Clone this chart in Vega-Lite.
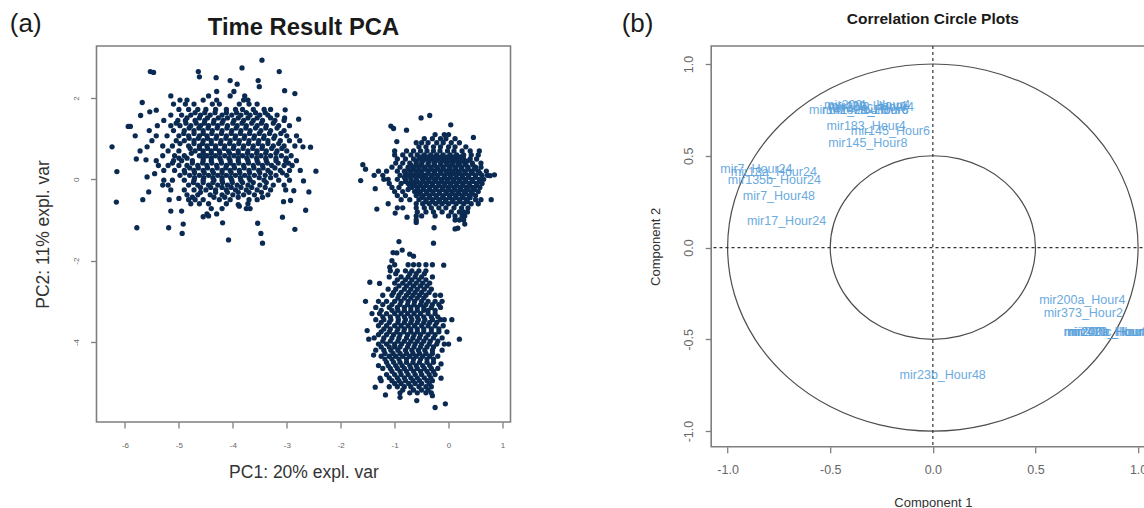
{"$schema":"https://vega.github.io/schema/vega-lite/v6.json","padding":{"left":8.5,"top":10,"right":0,"bottom":0},"background":"white","bounds":"flush","spacing":200.7,"config":{"font":"Liberation Sans","view":{"stroke":"#7f7f7f","strokeWidth":1.6},"axis":{"grid":false,"domain":false,"tickColor":"#7f7f7f","tickWidth":1.3,"tickSize":6,"labelColor":"#666666","titleColor":"#333333","titleFontWeight":"normal"}},"hconcat":[{"width":414,"height":376,"title":{"text":"Time Result PCA","fontSize":23.8,"fontWeight":"bold","color":"#1a1a1a","anchor":"middle","offset":-29},"layer":[{"data":{"values":[{"x":-6.24,"y":0.8},{"x":-6.15,"y":0.19},{"x":-6.16,"y":-0.56},{"x":-5.78,"y":-1.19},{"x":-5.19,"y":-1.19},{"x":-4.94,"y":-1.33},{"x":-4.92,"y":-1.1},{"x":-5.67,"y":-0.5},{"x":-5.56,"y":-0.31},{"x":-5.59,"y":0.06},{"x":-5.45,"y":0.14},{"x":-5.79,"y":0.5},{"x":-5.61,"y":0.48},{"x":-5.72,"y":0.7},{"x":-5.59,"y":0.8},{"x":-5.81,"y":1.07},{"x":-5.94,"y":1.3},{"x":-5.9,"y":1.3},{"x":-5.71,"y":1.57},{"x":-5.68,"y":1.89},{"x":-5.54,"y":1.66},{"x":-5.42,"y":1.7},{"x":-5.53,"y":2.65},{"x":-5.47,"y":2.63},{"x":-4.64,"y":2.65},{"x":-4.62,"y":2.52},{"x":-4.31,"y":2.5},{"x":-4.05,"y":2.43},{"x":-3.92,"y":2.34},{"x":-3.83,"y":2.74},{"x":-3.46,"y":2.93},{"x":-3.14,"y":2.65},{"x":-3.53,"y":2.43},{"x":-3.51,"y":2.28},{"x":-3.04,"y":2.18},{"x":-2.85,"y":2.11},{"x":-3.98,"y":2.16},{"x":-4.3,"y":2.16},{"x":-3.03,"y":1.71},{"x":-2.78,"y":1.48},{"x":-3.04,"y":1.51},{"x":-2.76,"y":0.95},{"x":-2.7,"y":0.8},{"x":-2.56,"y":0.79},{"x":-2.46,"y":0.2},{"x":-2.59,"y":-0.31},{"x":-2.69,"y":-0.04},{"x":-2.87,"y":-0.28},{"x":-2.65,"y":-0.76},{"x":-2.85,"y":-1.23},{"x":-3.08,"y":-0.93},{"x":-2.93,"y":-0.52},{"x":-3.06,"y":-0.55},{"x":-3.54,"y":-1.08},{"x":-3.48,"y":-1.33},{"x":-3.45,"y":-1.57},{"x":-4.08,"y":-1.49},{"x":-4.19,"y":-1.07},{"x":-5.15,"y":2.05},{"x":-4.45,"y":2.05},{"x":-4.05,"y":2.05},{"x":-3.78,"y":2.05},{"x":-4.98,"y":1.95},{"x":-4.85,"y":1.95},{"x":-4.55,"y":1.95},{"x":-4.3,"y":1.95},{"x":-3.8,"y":1.95},{"x":-3.72,"y":1.95},{"x":-5.1,"y":1.85},{"x":-4.88,"y":1.85},{"x":-4.72,"y":1.85},{"x":-4.38,"y":1.85},{"x":-4.25,"y":1.85},{"x":-3.88,"y":1.85},{"x":-3.7,"y":1.85},{"x":-3.55,"y":1.85},{"x":-5.0,"y":1.72},{"x":-4.82,"y":1.72},{"x":-4.65,"y":1.72},{"x":-4.5,"y":1.72},{"x":-4.32,"y":1.72},{"x":-4.12,"y":1.72},{"x":-3.95,"y":1.72},{"x":-3.82,"y":1.72},{"x":-3.62,"y":1.72},{"x":-3.42,"y":1.72},{"x":-3.3,"y":1.72},{"x":-5.15,"y":1.58},{"x":-4.95,"y":1.58},{"x":-4.78,"y":1.58},{"x":-4.6,"y":1.58},{"x":-4.42,"y":1.58},{"x":-4.2,"y":1.58},{"x":-4.02,"y":1.58},{"x":-3.85,"y":1.58},{"x":-3.68,"y":1.58},{"x":-3.5,"y":1.58},{"x":-3.35,"y":1.58},{"x":-3.18,"y":1.58},{"x":-5.28,"y":1.45},{"x":-5.02,"y":1.45},{"x":-4.88,"y":1.45},{"x":-4.7,"y":1.45},{"x":-4.52,"y":1.45},{"x":-4.35,"y":1.45},{"x":-4.18,"y":1.45},{"x":-3.98,"y":1.45},{"x":-3.8,"y":1.45},{"x":-3.62,"y":1.45},{"x":-3.45,"y":1.45},{"x":-3.22,"y":1.45},{"x":-3.05,"y":1.45},{"x":-5.4,"y":1.32},{"x":-5.15,"y":1.32},{"x":-4.98,"y":1.32},{"x":-4.78,"y":1.32},{"x":-4.6,"y":1.32},{"x":-4.45,"y":1.32},{"x":-4.28,"y":1.32},{"x":-4.1,"y":1.32},{"x":-3.92,"y":1.32},{"x":-3.75,"y":1.32},{"x":-3.55,"y":1.32},{"x":-3.38,"y":1.32},{"x":-3.15,"y":1.32},{"x":-2.95,"y":1.32},{"x":-5.55,"y":1.2},{"x":-5.1,"y":1.2},{"x":-4.9,"y":1.2},{"x":-4.72,"y":1.2},{"x":-4.55,"y":1.2},{"x":-4.38,"y":1.2},{"x":-4.2,"y":1.2},{"x":-4.02,"y":1.2},{"x":-3.85,"y":1.2},{"x":-3.68,"y":1.2},{"x":-3.48,"y":1.2},{"x":-3.3,"y":1.2},{"x":-3.05,"y":1.2},{"x":-5.42,"y":1.07},{"x":-5.22,"y":1.07},{"x":-5.0,"y":1.07},{"x":-4.82,"y":1.07},{"x":-4.62,"y":1.07},{"x":-4.48,"y":1.07},{"x":-4.3,"y":1.07},{"x":-4.12,"y":1.07},{"x":-3.95,"y":1.07},{"x":-3.78,"y":1.07},{"x":-3.6,"y":1.07},{"x":-3.42,"y":1.07},{"x":-3.22,"y":1.07},{"x":-3.0,"y":1.07},{"x":-2.82,"y":1.07},{"x":-5.5,"y":0.95},{"x":-5.05,"y":0.95},{"x":-4.9,"y":0.95},{"x":-4.72,"y":0.95},{"x":-4.55,"y":0.95},{"x":-4.4,"y":0.95},{"x":-4.22,"y":0.95},{"x":-4.05,"y":0.95},{"x":-3.88,"y":0.95},{"x":-3.7,"y":0.95},{"x":-3.52,"y":0.95},{"x":-3.35,"y":0.95},{"x":-3.12,"y":0.95},{"x":-2.95,"y":0.95},{"x":-5.3,"y":0.82},{"x":-5.12,"y":0.82},{"x":-4.82,"y":0.82},{"x":-4.62,"y":0.82},{"x":-4.48,"y":0.82},{"x":-4.32,"y":0.82},{"x":-4.15,"y":0.82},{"x":-3.98,"y":0.82},{"x":-3.8,"y":0.82},{"x":-3.62,"y":0.82},{"x":-3.45,"y":0.82},{"x":-3.25,"y":0.82},{"x":-3.05,"y":0.82},{"x":-2.85,"y":0.82},{"x":-5.2,"y":0.7},{"x":-5.0,"y":0.7},{"x":-4.7,"y":0.7},{"x":-4.55,"y":0.7},{"x":-4.4,"y":0.7},{"x":-4.25,"y":0.7},{"x":-4.08,"y":0.7},{"x":-3.9,"y":0.7},{"x":-3.72,"y":0.7},{"x":-3.55,"y":0.7},{"x":-3.38,"y":0.7},{"x":-3.18,"y":0.7},{"x":-3.0,"y":0.7},{"x":-5.3,"y":0.58},{"x":-5.08,"y":0.58},{"x":-4.9,"y":0.58},{"x":-4.62,"y":0.58},{"x":-4.48,"y":0.58},{"x":-4.32,"y":0.58},{"x":-4.15,"y":0.58},{"x":-3.98,"y":0.58},{"x":-3.82,"y":0.58},{"x":-3.65,"y":0.58},{"x":-3.48,"y":0.58},{"x":-3.3,"y":0.58},{"x":-3.1,"y":0.58},{"x":-2.92,"y":0.58},{"x":-5.42,"y":0.46},{"x":-5.1,"y":0.46},{"x":-4.95,"y":0.46},{"x":-4.75,"y":0.46},{"x":-4.55,"y":0.46},{"x":-4.4,"y":0.46},{"x":-4.22,"y":0.46},{"x":-4.05,"y":0.46},{"x":-3.9,"y":0.46},{"x":-3.72,"y":0.46},{"x":-3.55,"y":0.46},{"x":-3.38,"y":0.46},{"x":-3.2,"y":0.46},{"x":-3.02,"y":0.46},{"x":-2.82,"y":0.46},{"x":-5.38,"y":0.34},{"x":-5.2,"y":0.34},{"x":-5.0,"y":0.34},{"x":-4.85,"y":0.34},{"x":-4.65,"y":0.34},{"x":-4.48,"y":0.34},{"x":-4.3,"y":0.34},{"x":-4.12,"y":0.34},{"x":-3.98,"y":0.34},{"x":-3.8,"y":0.34},{"x":-3.62,"y":0.34},{"x":-3.45,"y":0.34},{"x":-3.28,"y":0.34},{"x":-3.05,"y":0.34},{"x":-2.9,"y":0.34},{"x":-5.28,"y":0.22},{"x":-5.08,"y":0.22},{"x":-4.9,"y":0.22},{"x":-4.72,"y":0.22},{"x":-4.55,"y":0.22},{"x":-4.38,"y":0.22},{"x":-4.2,"y":0.22},{"x":-4.05,"y":0.22},{"x":-3.88,"y":0.22},{"x":-3.7,"y":0.22},{"x":-3.52,"y":0.22},{"x":-3.35,"y":0.22},{"x":-3.12,"y":0.22},{"x":-2.95,"y":0.22},{"x":-2.75,"y":0.22},{"x":-4.98,"y":0.1},{"x":-4.8,"y":0.1},{"x":-4.62,"y":0.1},{"x":-4.45,"y":0.1},{"x":-4.28,"y":0.1},{"x":-4.12,"y":0.1},{"x":-3.95,"y":0.1},{"x":-3.78,"y":0.1},{"x":-3.6,"y":0.1},{"x":-3.4,"y":0.1},{"x":-3.2,"y":0.1},{"x":-3.0,"y":0.1},{"x":-5.28,"y":-0.02},{"x":-5.12,"y":-0.02},{"x":-4.9,"y":-0.02},{"x":-4.72,"y":-0.02},{"x":-4.55,"y":-0.02},{"x":-4.35,"y":-0.02},{"x":-4.2,"y":-0.02},{"x":-4.02,"y":-0.02},{"x":-3.85,"y":-0.02},{"x":-3.68,"y":-0.02},{"x":-3.42,"y":-0.02},{"x":-3.15,"y":-0.02},{"x":-2.95,"y":-0.02},{"x":-5.3,"y":-0.14},{"x":-5.2,"y":-0.14},{"x":-4.82,"y":-0.14},{"x":-4.65,"y":-0.14},{"x":-4.45,"y":-0.14},{"x":-4.28,"y":-0.14},{"x":-4.1,"y":-0.14},{"x":-3.92,"y":-0.14},{"x":-3.72,"y":-0.14},{"x":-3.5,"y":-0.14},{"x":-3.25,"y":-0.14},{"x":-3.05,"y":-0.14},{"x":-5.15,"y":-0.26},{"x":-4.9,"y":-0.26},{"x":-4.72,"y":-0.26},{"x":-4.5,"y":-0.26},{"x":-4.32,"y":-0.26},{"x":-4.12,"y":-0.26},{"x":-3.95,"y":-0.26},{"x":-3.75,"y":-0.26},{"x":-3.55,"y":-0.26},{"x":-3.3,"y":-0.26},{"x":-3.02,"y":-0.26},{"x":-4.85,"y":-0.38},{"x":-4.65,"y":-0.38},{"x":-4.42,"y":-0.38},{"x":-4.2,"y":-0.38},{"x":-4.0,"y":-0.38},{"x":-3.8,"y":-0.38},{"x":-3.6,"y":-0.38},{"x":-3.35,"y":-0.38},{"x":-5.18,"y":-0.5},{"x":-5.0,"y":-0.47},{"x":-4.82,"y":-0.5},{"x":-4.7,"y":-0.5},{"x":-4.55,"y":-0.5},{"x":-4.25,"y":-0.5},{"x":-4.05,"y":-0.5},{"x":-3.7,"y":-0.5},{"x":-3.55,"y":-0.5},{"x":-4.78,"y":-0.6},{"x":-4.62,"y":-0.6},{"x":-4.45,"y":-0.6},{"x":-4.12,"y":-0.6},{"x":-3.9,"y":-0.62},{"x":-3.72,"y":-0.6},{"x":-4.4,"y":-0.72},{"x":-4.2,"y":-0.72},{"x":-3.88,"y":-0.66},{"x":-3.75,"y":-0.72},{"x":-3.68,"y":-0.72},{"x":-5.15,"y":-0.78},{"x":-4.95,"y":-0.78},{"x":-4.48,"y":-0.85},{"x":-4.3,"y":-0.85},{"x":-4.55,"y":-0.92},{"x":-4.45,"y":-0.9},{"x":-0.51,"y":1.51},{"x":-0.35,"y":1.57},{"x":0.04,"y":1.34},{"x":-1.07,"y":1.31},{"x":-1.02,"y":1.25},{"x":-0.78,"y":1.21},{"x":0.46,"y":1.03},{"x":-0.96,"y":0.93},{"x":-1.59,"y":0.36},{"x":-1.54,"y":0.25},{"x":-1.63,"y":-0.03},{"x":-1.36,"y":-0.23},{"x":-1.33,"y":-0.73},{"x":-1.12,"y":-0.6},{"x":-0.99,"y":-0.83},{"x":-0.77,"y":-0.93},{"x":-0.6,"y":-1.06},{"x":-0.27,"y":-1.19},{"x":0.12,"y":-1.22},{"x":0.17,"y":-1.2},{"x":0.3,"y":-1.1},{"x":0.79,"y":-0.5},{"x":0.85,"y":0.11},{"x":0.77,"y":0.09},{"x":0.57,"y":0.7},{"x":-0.25,"y":1.1},{"x":-0.08,"y":1.1},{"x":0.0,"y":1.1},{"x":-0.45,"y":1.0},{"x":-0.3,"y":1.0},{"x":-0.15,"y":1.0},{"x":-0.05,"y":1.0},{"x":0.12,"y":1.0},{"x":-0.6,"y":0.9},{"x":-0.5,"y":0.9},{"x":-0.38,"y":0.9},{"x":-0.22,"y":0.9},{"x":-0.1,"y":0.9},{"x":0.05,"y":0.9},{"x":0.2,"y":0.9},{"x":-0.55,"y":0.8},{"x":-0.42,"y":0.8},{"x":-0.28,"y":0.8},{"x":-0.15,"y":0.8},{"x":0.0,"y":0.8},{"x":0.12,"y":0.8},{"x":0.32,"y":0.8},{"x":-1.0,"y":0.7},{"x":-0.78,"y":0.7},{"x":-0.65,"y":0.7},{"x":-0.52,"y":0.7},{"x":-0.4,"y":0.7},{"x":-0.28,"y":0.7},{"x":-0.16,"y":0.7},{"x":-0.02,"y":0.7},{"x":0.1,"y":0.7},{"x":0.25,"y":0.7},{"x":0.4,"y":0.7},{"x":-1.0,"y":0.6},{"x":-0.85,"y":0.6},{"x":-0.7,"y":0.6},{"x":-0.58,"y":0.6},{"x":-0.45,"y":0.6},{"x":-0.33,"y":0.6},{"x":-0.22,"y":0.6},{"x":-0.1,"y":0.6},{"x":0.03,"y":0.6},{"x":0.15,"y":0.6},{"x":0.28,"y":0.6},{"x":0.42,"y":0.6},{"x":0.55,"y":0.6},{"x":-0.95,"y":0.5},{"x":-0.8,"y":0.5},{"x":-0.65,"y":0.5},{"x":-0.55,"y":0.5},{"x":-0.42,"y":0.5},{"x":-0.3,"y":0.5},{"x":-0.2,"y":0.5},{"x":-0.08,"y":0.5},{"x":0.05,"y":0.5},{"x":0.16,"y":0.5},{"x":0.28,"y":0.5},{"x":0.4,"y":0.5},{"x":0.52,"y":0.5},{"x":-0.98,"y":0.4},{"x":-0.85,"y":0.4},{"x":-0.72,"y":0.4},{"x":-0.6,"y":0.4},{"x":-0.5,"y":0.4},{"x":-0.38,"y":0.4},{"x":-0.27,"y":0.4},{"x":-0.15,"y":0.4},{"x":-0.04,"y":0.4},{"x":0.07,"y":0.4},{"x":0.18,"y":0.4},{"x":0.3,"y":0.4},{"x":0.44,"y":0.4},{"x":0.6,"y":0.4},{"x":-1.05,"y":0.3},{"x":-0.9,"y":0.3},{"x":-0.75,"y":0.3},{"x":-0.65,"y":0.3},{"x":-0.55,"y":0.3},{"x":-0.45,"y":0.3},{"x":-0.33,"y":0.3},{"x":-0.22,"y":0.3},{"x":-0.1,"y":0.3},{"x":0.02,"y":0.3},{"x":0.13,"y":0.3},{"x":0.24,"y":0.3},{"x":0.36,"y":0.3},{"x":0.5,"y":0.3},{"x":0.6,"y":0.3},{"x":-1.3,"y":0.2},{"x":-1.15,"y":0.2},{"x":-0.95,"y":0.2},{"x":-0.82,"y":0.2},{"x":-0.7,"y":0.2},{"x":-0.6,"y":0.2},{"x":-0.5,"y":0.2},{"x":-0.38,"y":0.2},{"x":-0.27,"y":0.2},{"x":-0.15,"y":0.2},{"x":-0.04,"y":0.2},{"x":0.07,"y":0.2},{"x":0.18,"y":0.2},{"x":0.3,"y":0.2},{"x":0.42,"y":0.2},{"x":0.55,"y":0.2},{"x":0.7,"y":0.2},{"x":-1.38,"y":0.1},{"x":-1.22,"y":0.1},{"x":-0.9,"y":0.1},{"x":-0.76,"y":0.1},{"x":-0.65,"y":0.1},{"x":-0.55,"y":0.1},{"x":-0.44,"y":0.1},{"x":-0.32,"y":0.1},{"x":-0.2,"y":0.1},{"x":-0.08,"y":0.1},{"x":0.03,"y":0.1},{"x":0.14,"y":0.1},{"x":0.25,"y":0.1},{"x":0.37,"y":0.1},{"x":0.5,"y":0.1},{"x":0.62,"y":0.1},{"x":0.72,"y":0.1},{"x":-1.2,"y":0.0},{"x":-1.12,"y":0.0},{"x":-0.95,"y":0.0},{"x":-0.8,"y":0.0},{"x":-0.7,"y":0.0},{"x":-0.6,"y":0.0},{"x":-0.48,"y":0.0},{"x":-0.37,"y":0.0},{"x":-0.26,"y":0.0},{"x":-0.14,"y":0.0},{"x":-0.02,"y":0.0},{"x":0.09,"y":0.0},{"x":0.2,"y":0.0},{"x":0.31,"y":0.0},{"x":0.43,"y":0.0},{"x":0.57,"y":0.0},{"x":0.65,"y":0.0},{"x":-1.1,"y":-0.1},{"x":-0.88,"y":-0.1},{"x":-0.75,"y":-0.1},{"x":-0.64,"y":-0.1},{"x":-0.53,"y":-0.1},{"x":-0.42,"y":-0.1},{"x":-0.3,"y":-0.1},{"x":-0.18,"y":-0.1},{"x":-0.07,"y":-0.1},{"x":0.04,"y":-0.1},{"x":0.15,"y":-0.1},{"x":0.26,"y":-0.1},{"x":0.38,"y":-0.1},{"x":0.52,"y":-0.1},{"x":0.62,"y":-0.1},{"x":-1.05,"y":-0.2},{"x":-0.92,"y":-0.2},{"x":-0.68,"y":-0.2},{"x":-0.57,"y":-0.2},{"x":-0.47,"y":-0.2},{"x":-0.35,"y":-0.2},{"x":-0.24,"y":-0.2},{"x":-0.12,"y":-0.2},{"x":-0.01,"y":-0.2},{"x":0.1,"y":-0.2},{"x":0.21,"y":-0.2},{"x":0.33,"y":-0.2},{"x":0.45,"y":-0.2},{"x":0.58,"y":-0.2},{"x":-1.0,"y":-0.3},{"x":-0.85,"y":-0.3},{"x":-0.63,"y":-0.3},{"x":-0.52,"y":-0.3},{"x":-0.4,"y":-0.3},{"x":-0.29,"y":-0.3},{"x":-0.17,"y":-0.3},{"x":-0.05,"y":-0.3},{"x":0.06,"y":-0.3},{"x":0.17,"y":-0.3},{"x":0.29,"y":-0.3},{"x":0.42,"y":-0.3},{"x":0.55,"y":-0.3},{"x":-0.95,"y":-0.4},{"x":-0.8,"y":-0.4},{"x":-0.6,"y":-0.4},{"x":-0.47,"y":-0.4},{"x":-0.35,"y":-0.4},{"x":-0.23,"y":-0.4},{"x":-0.1,"y":-0.4},{"x":0.02,"y":-0.4},{"x":0.13,"y":-0.4},{"x":0.25,"y":-0.4},{"x":0.38,"y":-0.4},{"x":0.5,"y":-0.4},{"x":-0.88,"y":-0.5},{"x":-0.72,"y":-0.5},{"x":-0.55,"y":-0.5},{"x":-0.42,"y":-0.5},{"x":-0.3,"y":-0.5},{"x":-0.17,"y":-0.5},{"x":-0.05,"y":-0.5},{"x":0.08,"y":-0.5},{"x":0.2,"y":-0.5},{"x":0.33,"y":-0.5},{"x":0.5,"y":-0.5},{"x":0.6,"y":-0.5},{"x":-0.6,"y":-0.6},{"x":-0.48,"y":-0.6},{"x":-0.36,"y":-0.6},{"x":-0.24,"y":-0.6},{"x":-0.12,"y":-0.6},{"x":0.0,"y":-0.6},{"x":0.14,"y":-0.6},{"x":0.28,"y":-0.6},{"x":0.42,"y":-0.6},{"x":0.55,"y":-0.6},{"x":-0.95,"y":-0.7},{"x":-0.85,"y":-0.7},{"x":-0.6,"y":-0.7},{"x":-0.45,"y":-0.7},{"x":-0.32,"y":-0.7},{"x":-0.18,"y":-0.7},{"x":-0.05,"y":-0.7},{"x":0.1,"y":-0.7},{"x":0.24,"y":-0.7},{"x":0.36,"y":-0.7},{"x":-0.58,"y":-0.8},{"x":-0.42,"y":-0.8},{"x":-0.28,"y":-0.8},{"x":-0.12,"y":-0.8},{"x":0.05,"y":-0.8},{"x":0.2,"y":-0.8},{"x":0.28,"y":-0.8},{"x":0.35,"y":-0.8},{"x":-0.6,"y":-0.9},{"x":-0.5,"y":-0.9},{"x":-0.25,"y":-0.9},{"x":0.0,"y":-0.9},{"x":0.12,"y":-0.9},{"x":0.25,"y":-0.9},{"x":0.3,"y":-0.9},{"x":-0.6,"y":-1.0},{"x":0.12,"y":-1.0},{"x":0.2,"y":-1.0},{"x":0.28,"y":-1.0},{"x":-0.92,"y":-1.53},{"x":-0.28,"y":-1.57},{"x":-1.03,"y":-1.8},{"x":-0.86,"y":-1.74},{"x":-0.96,"y":-1.81},{"x":-0.72,"y":-1.84},{"x":-0.65,"y":-1.89},{"x":-0.09,"y":-2.11},{"x":-1.05,"y":-2.0},{"x":-1.09,"y":-2.16},{"x":-1.46,"y":-2.53},{"x":-1.28,"y":-2.56},{"x":-1.54,"y":-3.0},{"x":0.06,"y":-3.45},{"x":0.2,"y":-3.93},{"x":-1.36,"y":-5.11},{"x":-1.17,"y":-5.3},{"x":-0.9,"y":-5.36},{"x":-0.59,"y":-5.44},{"x":-0.3,"y":-5.32},{"x":-0.25,"y":-5.61},{"x":-0.06,"y":-5.52},{"x":-0.14,"y":-4.89},{"x":-1.48,"y":-3.93},{"x":-1.51,"y":-3.72},{"x":-1.39,"y":-4.32},{"x":-1.3,"y":-4.58},{"x":-1.27,"y":-4.89},{"x":-0.14,"y":-4.54},{"x":0.0,"y":-4.05},{"x":-0.03,"y":-3.75},{"x":-1.0,"y":-2.1},{"x":-0.75,"y":-2.1},{"x":-0.65,"y":-2.1},{"x":-0.55,"y":-2.1},{"x":-0.42,"y":-2.1},{"x":-0.3,"y":-2.1},{"x":-1.08,"y":-2.25},{"x":-0.95,"y":-2.25},{"x":-0.8,"y":-2.25},{"x":-0.68,"y":-2.25},{"x":-0.55,"y":-2.25},{"x":-0.42,"y":-2.25},{"x":-1.1,"y":-2.4},{"x":-0.88,"y":-2.4},{"x":-0.75,"y":-2.4},{"x":-0.62,"y":-2.4},{"x":-0.5,"y":-2.4},{"x":-0.3,"y":-2.4},{"x":-1.0,"y":-2.55},{"x":-0.85,"y":-2.55},{"x":-0.72,"y":-2.55},{"x":-0.6,"y":-2.55},{"x":-0.48,"y":-2.55},{"x":-0.35,"y":-2.55},{"x":-1.12,"y":-2.7},{"x":-0.98,"y":-2.7},{"x":-0.82,"y":-2.7},{"x":-0.7,"y":-2.7},{"x":-0.58,"y":-2.7},{"x":-0.45,"y":-2.7},{"x":-0.32,"y":-2.7},{"x":-1.22,"y":-2.85},{"x":-1.05,"y":-2.85},{"x":-0.92,"y":-2.85},{"x":-0.78,"y":-2.85},{"x":-0.66,"y":-2.85},{"x":-0.54,"y":-2.85},{"x":-0.42,"y":-2.85},{"x":-0.25,"y":-2.85},{"x":-0.15,"y":-2.85},{"x":-1.3,"y":-3.0},{"x":-1.15,"y":-3.0},{"x":-1.0,"y":-3.0},{"x":-0.88,"y":-3.0},{"x":-0.75,"y":-3.0},{"x":-0.63,"y":-3.0},{"x":-0.5,"y":-3.0},{"x":-0.38,"y":-3.0},{"x":-0.25,"y":-3.0},{"x":-0.12,"y":-3.0},{"x":-1.35,"y":-3.15},{"x":-1.1,"y":-3.15},{"x":-0.95,"y":-3.15},{"x":-0.82,"y":-3.15},{"x":-0.7,"y":-3.15},{"x":-0.58,"y":-3.15},{"x":-0.46,"y":-3.15},{"x":-0.32,"y":-3.15},{"x":-0.15,"y":-3.15},{"x":-1.42,"y":-3.3},{"x":-1.28,"y":-3.3},{"x":-1.15,"y":-3.3},{"x":-1.0,"y":-3.3},{"x":-0.88,"y":-3.3},{"x":-0.76,"y":-3.3},{"x":-0.64,"y":-3.3},{"x":-0.52,"y":-3.3},{"x":-0.38,"y":-3.3},{"x":-0.25,"y":-3.3},{"x":-1.35,"y":-3.45},{"x":-1.2,"y":-3.45},{"x":-1.07,"y":-3.45},{"x":-0.93,"y":-3.45},{"x":-0.8,"y":-3.45},{"x":-0.68,"y":-3.45},{"x":-0.56,"y":-3.45},{"x":-0.44,"y":-3.45},{"x":-0.3,"y":-3.45},{"x":-0.15,"y":-3.45},{"x":-0.08,"y":-3.45},{"x":-1.3,"y":-3.6},{"x":-1.15,"y":-3.6},{"x":-1.0,"y":-3.6},{"x":-0.88,"y":-3.6},{"x":-0.75,"y":-3.6},{"x":-0.63,"y":-3.6},{"x":-0.5,"y":-3.6},{"x":-0.38,"y":-3.6},{"x":-0.25,"y":-3.6},{"x":-0.1,"y":-3.6},{"x":-1.25,"y":-3.75},{"x":-1.1,"y":-3.75},{"x":-0.96,"y":-3.75},{"x":-0.83,"y":-3.75},{"x":-0.7,"y":-3.75},{"x":-0.58,"y":-3.75},{"x":-0.46,"y":-3.75},{"x":-0.32,"y":-3.75},{"x":-0.18,"y":-3.75},{"x":-1.38,"y":-3.9},{"x":-1.2,"y":-3.9},{"x":-1.05,"y":-3.9},{"x":-0.92,"y":-3.9},{"x":-0.78,"y":-3.9},{"x":-0.66,"y":-3.9},{"x":-0.54,"y":-3.9},{"x":-0.42,"y":-3.9},{"x":-0.28,"y":-3.9},{"x":-0.12,"y":-3.9},{"x":-1.3,"y":-4.05},{"x":-1.15,"y":-4.05},{"x":-1.0,"y":-4.05},{"x":-0.87,"y":-4.05},{"x":-0.74,"y":-4.05},{"x":-0.62,"y":-4.05},{"x":-0.5,"y":-4.05},{"x":-0.36,"y":-4.05},{"x":-0.22,"y":-4.05},{"x":-0.08,"y":-4.05},{"x":-1.35,"y":-4.2},{"x":-1.2,"y":-4.2},{"x":-1.07,"y":-4.2},{"x":-0.94,"y":-4.2},{"x":-0.8,"y":-4.2},{"x":-0.68,"y":-4.2},{"x":-0.56,"y":-4.2},{"x":-0.44,"y":-4.2},{"x":-0.3,"y":-4.2},{"x":-0.12,"y":-4.2},{"x":-1.25,"y":-4.35},{"x":-1.1,"y":-4.35},{"x":-0.98,"y":-4.35},{"x":-0.85,"y":-4.35},{"x":-0.72,"y":-4.35},{"x":-0.6,"y":-4.35},{"x":-0.48,"y":-4.35},{"x":-0.35,"y":-4.35},{"x":-0.2,"y":-4.35},{"x":-1.15,"y":-4.5},{"x":-1.02,"y":-4.5},{"x":-0.9,"y":-4.5},{"x":-0.78,"y":-4.5},{"x":-0.66,"y":-4.5},{"x":-0.54,"y":-4.5},{"x":-0.4,"y":-4.5},{"x":-0.28,"y":-4.5},{"x":-1.22,"y":-4.65},{"x":-1.08,"y":-4.65},{"x":-0.95,"y":-4.65},{"x":-0.82,"y":-4.65},{"x":-0.7,"y":-4.65},{"x":-0.58,"y":-4.65},{"x":-0.45,"y":-4.65},{"x":-0.32,"y":-4.65},{"x":-0.2,"y":-4.65},{"x":-1.15,"y":-4.8},{"x":-1.0,"y":-4.8},{"x":-0.88,"y":-4.8},{"x":-0.75,"y":-4.8},{"x":-0.62,"y":-4.8},{"x":-0.5,"y":-4.8},{"x":-0.36,"y":-4.8},{"x":-0.25,"y":-4.8},{"x":-1.25,"y":-4.95},{"x":-1.05,"y":-4.95},{"x":-0.92,"y":-4.95},{"x":-0.8,"y":-4.95},{"x":-0.66,"y":-4.95},{"x":-0.54,"y":-4.95},{"x":-0.4,"y":-4.95},{"x":-0.3,"y":-4.95},{"x":-1.1,"y":-5.1},{"x":-0.95,"y":-5.1},{"x":-0.82,"y":-5.1},{"x":-0.7,"y":-5.1},{"x":-0.55,"y":-5.1},{"x":-0.42,"y":-5.1},{"x":-0.32,"y":-5.1},{"x":-0.9,"y":-5.25},{"x":-0.72,"y":-5.25},{"x":-0.58,"y":-5.25},{"x":-0.42,"y":-5.25},{"x":-0.32,"y":-5.25},{"x":-0.94,"y":-2.92},{"x":-0.82,"y":-2.92},{"x":-0.7,"y":-2.92},{"x":-0.58,"y":-2.92},{"x":-0.46,"y":-2.92},{"x":-0.9,"y":-3.08},{"x":-0.76,"y":-3.08},{"x":-0.64,"y":-3.08},{"x":-0.52,"y":-3.08},{"x":-0.94,"y":-3.22},{"x":-0.82,"y":-3.22},{"x":-0.7,"y":-3.22},{"x":-0.58,"y":-3.22},{"x":-0.46,"y":-3.22},{"x":-0.94,"y":-3.38},{"x":-0.82,"y":-3.38},{"x":-0.7,"y":-3.38},{"x":-0.58,"y":-3.38},{"x":-0.46,"y":-3.38},{"x":-0.94,"y":-3.52},{"x":-0.82,"y":-3.52},{"x":-0.7,"y":-3.52},{"x":-0.58,"y":-3.52},{"x":-0.46,"y":-3.52},{"x":-0.94,"y":-3.68},{"x":-0.82,"y":-3.68},{"x":-0.7,"y":-3.68},{"x":-0.58,"y":-3.68},{"x":-0.46,"y":-3.68},{"x":-0.9,"y":-3.82},{"x":-0.76,"y":-3.82},{"x":-0.64,"y":-3.82},{"x":-0.52,"y":-3.82},{"x":-0.94,"y":-3.98},{"x":-0.82,"y":-3.98},{"x":-0.7,"y":-3.98},{"x":-0.58,"y":-3.98},{"x":-0.46,"y":-3.98},{"x":-0.9,"y":-4.12},{"x":-0.76,"y":-4.12},{"x":-0.64,"y":-4.12},{"x":-0.52,"y":-4.12},{"x":-0.9,"y":-4.28},{"x":-0.78,"y":-4.28},{"x":-0.66,"y":-4.28},{"x":-0.54,"y":-4.28},{"x":-4.7,"y":1.64},{"x":-4.52,"y":1.64},{"x":-4.33,"y":1.64},{"x":-4.12,"y":1.64},{"x":-3.93,"y":1.64},{"x":-3.75,"y":1.64},{"x":-3.58,"y":1.64},{"x":-3.4,"y":1.64},{"x":-4.85,"y":1.51},{"x":-4.62,"y":1.51},{"x":-4.47,"y":1.51},{"x":-4.27,"y":1.51},{"x":-4.1,"y":1.51},{"x":-3.9,"y":1.51},{"x":-3.72,"y":1.51},{"x":-3.55,"y":1.51},{"x":-3.3,"y":1.51},{"x":-5.05,"y":1.38},{"x":-4.87,"y":1.38},{"x":-4.68,"y":1.38},{"x":-4.53,"y":1.38},{"x":-4.36,"y":1.38},{"x":-4.2,"y":1.38},{"x":-4.0,"y":1.38},{"x":-3.83,"y":1.38},{"x":-3.65,"y":1.38},{"x":-3.47,"y":1.38},{"x":-3.25,"y":1.38},{"x":-4.81,"y":1.26},{"x":-4.63,"y":1.26},{"x":-4.46,"y":1.26},{"x":-4.29,"y":1.26},{"x":-4.11,"y":1.26},{"x":-3.94,"y":1.26},{"x":-3.76,"y":1.26},{"x":-3.58,"y":1.26},{"x":-3.39,"y":1.26},{"x":-3.18,"y":1.26},{"x":-4.91,"y":1.13},{"x":-4.72,"y":1.13},{"x":-4.55,"y":1.13},{"x":-4.39,"y":1.13},{"x":-4.21,"y":1.13},{"x":-4.03,"y":1.13},{"x":-3.86,"y":1.13},{"x":-3.69,"y":1.13},{"x":-3.51,"y":1.13},{"x":-3.32,"y":1.13},{"x":-3.11,"y":1.13},{"x":-4.81,"y":1.01},{"x":-4.64,"y":1.01},{"x":-4.47,"y":1.01},{"x":-4.31,"y":1.01},{"x":-4.13,"y":1.01},{"x":-3.96,"y":1.01},{"x":-3.79,"y":1.01},{"x":-3.61,"y":1.01},{"x":-3.43,"y":1.01},{"x":-3.24,"y":1.01},{"x":-4.98,"y":0.88},{"x":-4.72,"y":0.88},{"x":-4.56,"y":0.88},{"x":-4.4,"y":0.88},{"x":-4.23,"y":0.88},{"x":-4.06,"y":0.88},{"x":-3.89,"y":0.88},{"x":-3.71,"y":0.88},{"x":-3.53,"y":0.88},{"x":-3.35,"y":0.88},{"x":-3.15,"y":0.88},{"x":-4.79,"y":0.76},{"x":-4.62,"y":0.76},{"x":-4.47,"y":0.76},{"x":-4.32,"y":0.76},{"x":-4.16,"y":0.76},{"x":-3.99,"y":0.76},{"x":-3.81,"y":0.76},{"x":-3.63,"y":0.76},{"x":-3.46,"y":0.76},{"x":-3.28,"y":0.76},{"x":-3.09,"y":0.76},{"x":-4.77,"y":0.64},{"x":-4.55,"y":0.64},{"x":-4.4,"y":0.64},{"x":-4.24,"y":0.64},{"x":-4.06,"y":0.64},{"x":-3.9,"y":0.64},{"x":-3.73,"y":0.64},{"x":-3.56,"y":0.64},{"x":-3.39,"y":0.64},{"x":-3.2,"y":0.64},{"x":-5.0,"y":0.52},{"x":-4.85,"y":0.52},{"x":-4.55,"y":0.52},{"x":-4.4,"y":0.52},{"x":-4.24,"y":0.52},{"x":-4.07,"y":0.52},{"x":-3.9,"y":0.52},{"x":-3.74,"y":0.52},{"x":-3.56,"y":0.52},{"x":-3.39,"y":0.52},{"x":-3.2,"y":0.52},{"x":-3.01,"y":0.52},{"x":-5.12,"y":0.4},{"x":-4.75,"y":0.4},{"x":-4.56,"y":0.4},{"x":-4.39,"y":0.4},{"x":-4.21,"y":0.4},{"x":-4.05,"y":0.4},{"x":-3.89,"y":0.4},{"x":-3.71,"y":0.4},{"x":-3.53,"y":0.4},{"x":-3.36,"y":0.4},{"x":-3.16,"y":0.4},{"x":-2.97,"y":0.4},{"x":-4.8,"y":0.28},{"x":-4.64,"y":0.28},{"x":-4.47,"y":0.28},{"x":-4.29,"y":0.28},{"x":-4.13,"y":0.28},{"x":-3.97,"y":0.28},{"x":-3.79,"y":0.28},{"x":-3.61,"y":0.28},{"x":-3.44,"y":0.28},{"x":-3.22,"y":0.28},{"x":-4.89,"y":0.16},{"x":-4.71,"y":0.16},{"x":-4.53,"y":0.16},{"x":-4.36,"y":0.16},{"x":-4.2,"y":0.16},{"x":-4.03,"y":0.16},{"x":-3.87,"y":0.16},{"x":-3.69,"y":0.16},{"x":-3.5,"y":0.16},{"x":-3.3,"y":0.16},{"x":-3.08,"y":0.16},{"x":-4.71,"y":0.04},{"x":-4.54,"y":0.04},{"x":-4.37,"y":0.04},{"x":-4.2,"y":0.04},{"x":-4.04,"y":0.04},{"x":-3.86,"y":0.04},{"x":-3.7,"y":0.04},{"x":-3.51,"y":0.04},{"x":-3.3,"y":0.04},{"x":-4.73,"y":-0.08},{"x":-4.55,"y":-0.08},{"x":-4.37,"y":-0.08},{"x":-4.19,"y":-0.08},{"x":-4.01,"y":-0.08},{"x":-3.82,"y":-0.08},{"x":-3.62,"y":-0.08},{"x":-3.38,"y":-0.08},{"x":-4.6,"y":-0.2},{"x":-4.41,"y":-0.2},{"x":-4.2,"y":-0.2},{"x":-4.03,"y":-0.2},{"x":-3.85,"y":-0.2},{"x":-3.65,"y":-0.2},{"x":-3.4,"y":-0.2},{"x":-4.6,"y":-0.32},{"x":-4.32,"y":-0.32},{"x":-4.1,"y":-0.32},{"x":-3.9,"y":-0.32},{"x":-3.7,"y":-0.32},{"x":-3.47,"y":-0.32},{"x":-4.75,"y":-0.44},{"x":-4.35,"y":-0.44},{"x":-4.15,"y":-0.44},{"x":-3.9,"y":-0.44},{"x":-3.45,"y":-0.44},{"x":-0.5,"y":0.55},{"x":-0.38,"y":0.55},{"x":-0.26,"y":0.55},{"x":-0.14,"y":0.55},{"x":-0.02,"y":0.55},{"x":0.1,"y":0.55},{"x":0.22,"y":0.55},{"x":-0.6,"y":0.45},{"x":-0.48,"y":0.45},{"x":-0.36,"y":0.45},{"x":-0.24,"y":0.45},{"x":-0.12,"y":0.45},{"x":0.0,"y":0.45},{"x":0.12,"y":0.45},{"x":0.24,"y":0.45},{"x":0.35,"y":0.45},{"x":-0.7,"y":0.35},{"x":-0.6,"y":0.35},{"x":-0.5,"y":0.35},{"x":-0.38,"y":0.35},{"x":-0.26,"y":0.35},{"x":-0.14,"y":0.35},{"x":-0.02,"y":0.35},{"x":0.08,"y":0.35},{"x":0.2,"y":0.35},{"x":0.32,"y":0.35},{"x":0.45,"y":0.35},{"x":-0.75,"y":0.25},{"x":-0.65,"y":0.25},{"x":-0.55,"y":0.25},{"x":-0.43,"y":0.25},{"x":-0.32,"y":0.25},{"x":-0.2,"y":0.25},{"x":-0.1,"y":0.25},{"x":0.01,"y":0.25},{"x":0.12,"y":0.25},{"x":0.24,"y":0.25},{"x":0.36,"y":0.25},{"x":0.48,"y":0.25},{"x":-0.8,"y":0.15},{"x":-0.7,"y":0.15},{"x":-0.6,"y":0.15},{"x":-0.5,"y":0.15},{"x":-0.38,"y":0.15},{"x":-0.26,"y":0.15},{"x":-0.14,"y":0.15},{"x":-0.02,"y":0.15},{"x":0.09,"y":0.15},{"x":0.2,"y":0.15},{"x":0.31,"y":0.15},{"x":0.44,"y":0.15},{"x":0.58,"y":0.15},{"x":-0.82,"y":0.05},{"x":-0.7,"y":0.05},{"x":-0.6,"y":0.05},{"x":-0.5,"y":0.05},{"x":-0.42,"y":0.05},{"x":-0.3,"y":0.05},{"x":-0.2,"y":0.05},{"x":-0.08,"y":0.05},{"x":0.03,"y":0.05},{"x":0.14,"y":0.05},{"x":0.26,"y":0.05},{"x":0.37,"y":0.05},{"x":0.5,"y":0.05},{"x":-0.8,"y":-0.05},{"x":-0.69,"y":-0.05},{"x":-0.58,"y":-0.05},{"x":-0.47,"y":-0.05},{"x":-0.36,"y":-0.05},{"x":-0.24,"y":-0.05},{"x":-0.12,"y":-0.05},{"x":-0.01,"y":-0.05},{"x":0.1,"y":-0.05},{"x":0.21,"y":-0.05},{"x":0.32,"y":-0.05},{"x":0.45,"y":-0.05},{"x":0.57,"y":-0.05},{"x":-0.72,"y":-0.15},{"x":-0.62,"y":-0.15},{"x":-0.52,"y":-0.15},{"x":-0.41,"y":-0.15},{"x":-0.3,"y":-0.15},{"x":-0.18,"y":-0.15},{"x":-0.07,"y":-0.15},{"x":0.04,"y":-0.15},{"x":0.15,"y":-0.15},{"x":0.27,"y":-0.15},{"x":0.39,"y":-0.15},{"x":0.52,"y":-0.15},{"x":-0.75,"y":-0.25},{"x":-0.58,"y":-0.25},{"x":-0.46,"y":-0.25},{"x":-0.35,"y":-0.25},{"x":-0.23,"y":-0.25},{"x":-0.11,"y":-0.25},{"x":0.0,"y":-0.25},{"x":0.11,"y":-0.25},{"x":0.23,"y":-0.25},{"x":0.36,"y":-0.25},{"x":0.48,"y":-0.25},{"x":-0.55,"y":-0.35},{"x":-0.41,"y":-0.35},{"x":-0.29,"y":-0.35},{"x":-0.17,"y":-0.35},{"x":-0.04,"y":-0.35},{"x":0.07,"y":-0.35},{"x":0.19,"y":-0.35},{"x":0.32,"y":-0.35},{"x":0.44,"y":-0.35},{"x":-0.5,"y":-0.45},{"x":-0.36,"y":-0.45},{"x":-0.23,"y":-0.45},{"x":-0.11,"y":-0.45},{"x":0.02,"y":-0.45},{"x":0.14,"y":-0.45},{"x":0.27,"y":-0.45},{"x":0.4,"y":-0.45},{"x":-0.42,"y":-0.55},{"x":-0.3,"y":-0.55},{"x":-0.18,"y":-0.55},{"x":-0.06,"y":-0.55},{"x":0.07,"y":-0.55},{"x":0.21,"y":-0.55},{"x":0.35,"y":-0.55},{"x":-0.92,"y":-2.62},{"x":-0.78,"y":-2.62},{"x":-0.65,"y":-2.62},{"x":-0.52,"y":-2.62},{"x":-0.4,"y":-2.62},{"x":-1.02,"y":-2.78},{"x":-0.88,"y":-2.78},{"x":-0.74,"y":-2.78},{"x":-0.62,"y":-2.78},{"x":-0.5,"y":-2.78},{"x":-0.36,"y":-2.78},{"x":-0.95,"y":-2.47},{"x":-0.8,"y":-2.47},{"x":-0.68,"y":-2.47},{"x":-0.55,"y":-2.47},{"x":-0.42,"y":-2.47},{"x":-1.22,"y":-3.08},{"x":-1.05,"y":-3.08},{"x":-0.42,"y":-3.08},{"x":-0.3,"y":-3.08},{"x":-0.18,"y":-3.08},{"x":-1.25,"y":-3.22},{"x":-1.05,"y":-3.22},{"x":-0.38,"y":-3.22},{"x":-0.25,"y":-3.22},{"x":-1.22,"y":-3.38},{"x":-1.08,"y":-3.38},{"x":-0.32,"y":-3.38},{"x":-0.2,"y":-3.38},{"x":-1.25,"y":-3.52},{"x":-1.1,"y":-3.52},{"x":-0.35,"y":-3.52},{"x":-0.22,"y":-3.52},{"x":-1.2,"y":-3.68},{"x":-1.08,"y":-3.68},{"x":-0.32,"y":-3.68},{"x":-0.18,"y":-3.68},{"x":-1.3,"y":-3.82},{"x":-1.15,"y":-3.82},{"x":-1.02,"y":-3.82},{"x":-0.38,"y":-3.82},{"x":-0.25,"y":-3.82},{"x":-1.22,"y":-3.98},{"x":-1.08,"y":-3.98},{"x":-0.34,"y":-3.98},{"x":-0.2,"y":-3.98},{"x":-1.25,"y":-4.12},{"x":-1.1,"y":-4.12},{"x":-1.0,"y":-4.12},{"x":-0.4,"y":-4.12},{"x":-0.28,"y":-4.12},{"x":-1.18,"y":-4.28},{"x":-1.03,"y":-4.28},{"x":-0.42,"y":-4.28},{"x":-0.3,"y":-4.28},{"x":-1.18,"y":-4.42},{"x":-1.05,"y":-4.42},{"x":-0.92,"y":-4.42},{"x":-0.78,"y":-4.42},{"x":-0.65,"y":-4.42},{"x":-0.52,"y":-4.42},{"x":-0.4,"y":-4.42},{"x":-0.28,"y":-4.42},{"x":-1.12,"y":-4.58},{"x":-0.98,"y":-4.58},{"x":-0.86,"y":-4.58},{"x":-0.72,"y":-4.58},{"x":-0.6,"y":-4.58},{"x":-0.48,"y":-4.58},{"x":-0.35,"y":-4.58},{"x":-1.05,"y":-4.72},{"x":-0.9,"y":-4.72},{"x":-0.78,"y":-4.72},{"x":-0.65,"y":-4.72},{"x":-0.52,"y":-4.72},{"x":-0.4,"y":-4.72},{"x":-0.28,"y":-4.72},{"x":-1.1,"y":-4.88},{"x":-0.95,"y":-4.88},{"x":-0.82,"y":-4.88},{"x":-0.7,"y":-4.88},{"x":-0.58,"y":-4.88},{"x":-0.45,"y":-4.88},{"x":-0.33,"y":-4.88},{"x":-1.0,"y":-5.02},{"x":-0.88,"y":-5.02},{"x":-0.74,"y":-5.02},{"x":-0.62,"y":-5.02},{"x":-0.5,"y":-5.02},{"x":-0.36,"y":-5.02},{"x":-0.85,"y":-5.18},{"x":-0.65,"y":-5.18},{"x":-0.5,"y":-5.18},{"x":-0.38,"y":-5.18},{"x":-0.98,"y":-2.32},{"x":-0.72,"y":-2.32},{"x":-0.6,"y":-2.32},{"x":-0.45,"y":-2.32}]},"mark":{"type":"point","filled":true,"size":28,"opacity":1,"color":"#0b2a52"},"encoding":{"x":{"field":"x","type":"quantitative","scale":{"domain":[-6.528,1.148],"nice":false,"zero":false},"axis":{"values":[-6,-5,-4,-3,-2,-1,0,1],"format":"d","labelExpr":"replace(datum.label,'−','-')","labelFontSize":8,"labelPadding":13,"title":"PC1: 20% expl. var","titleFontSize":17.5,"titlePadding":14}},"y":{"field":"y","type":"quantitative","scale":{"domain":[-5.967,3.279],"nice":false,"zero":false},"axis":{"values":[-4,-2,0,2],"format":"d","labelExpr":"replace(datum.label,'−','-')","labelFontSize":8,"labelAngle":-90,"labelAlign":"center","labelBaseline":"bottom","labelPadding":10,"title":"PC2: 11% expl. var","titleFontSize":17.5,"titlePadding":20}}}},{"data":{"values":[{"x":-7.84,"y":3.82,"t":"(a)"}]},"mark":{"type":"text","fontSize":26,"color":"#1a1a1a","clip":false,"align":"center"},"encoding":{"x":{"field":"x","type":"quantitative"},"y":{"field":"y","type":"quantitative"},"text":{"field":"t"}}}]},{"width":443.3,"height":400.7,"title":{"text":"Correlation Circle Plots","fontSize":15.5,"fontWeight":"bold","color":"#1a1a1a","anchor":"middle","offset":-17},"layer":[{"data":{"values":[{"a":0,"x":0,"y":1},{"a":1,"x":0.2588,"y":0.9659},{"a":2,"x":0.5,"y":0.866},{"a":3,"x":0.7071,"y":0.7071},{"a":4,"x":0.866,"y":0.5},{"a":5,"x":0.9659,"y":0.2588},{"a":6,"x":1,"y":0},{"a":7,"x":0.9659,"y":-0.2588},{"a":8,"x":0.866,"y":-0.5},{"a":9,"x":0.7071,"y":-0.7071},{"a":10,"x":0.5,"y":-0.866},{"a":11,"x":0.2588,"y":-0.9659},{"a":12,"x":0,"y":-1},{"a":13,"x":-0.2588,"y":-0.9659},{"a":14,"x":-0.5,"y":-0.866},{"a":15,"x":-0.7071,"y":-0.7071},{"a":16,"x":-0.866,"y":-0.5},{"a":17,"x":-0.9659,"y":-0.2588},{"a":18,"x":-1,"y":0},{"a":19,"x":-0.9659,"y":0.2588},{"a":20,"x":-0.866,"y":0.5},{"a":21,"x":-0.7071,"y":0.7071},{"a":22,"x":-0.5,"y":0.866},{"a":23,"x":-0.2588,"y":0.9659}]},"mark":{"type":"line","interpolate":"cardinal-closed","color":"#4d4d4d","strokeWidth":1.2},"encoding":{"order":{"field":"a","type":"quantitative"},"x":{"field":"x","type":"quantitative","scale":{"domain":[-1.08,1.08],"nice":false,"zero":false},"axis":{"values":[-1,-0.5,0,0.5,1],"format":".1f","labelExpr":"replace(datum.label,'−','-')","labelFontSize":12.5,"labelPadding":11,"title":"Component 1","titleFontSize":13,"titlePadding":20}},"y":{"field":"y","type":"quantitative","scale":{"domain":[-1.085,1.098],"nice":false,"zero":false},"axis":{"values":[-1,-0.5,0,0.5,1],"format":".1f","labelExpr":"replace(datum.label,'−','-')","labelFontSize":12.5,"labelAngle":-90,"labelAlign":"center","labelBaseline":"bottom","labelPadding":10,"title":"Component 2","titleFontSize":13,"titlePadding":20}}}},{"data":{"values":[{"a":0,"x":0,"y":0.5},{"a":1,"x":0.1294,"y":0.483},{"a":2,"x":0.25,"y":0.433},{"a":3,"x":0.3536,"y":0.3536},{"a":4,"x":0.433,"y":0.25},{"a":5,"x":0.483,"y":0.1294},{"a":6,"x":0.5,"y":0},{"a":7,"x":0.483,"y":-0.1294},{"a":8,"x":0.433,"y":-0.25},{"a":9,"x":0.3536,"y":-0.3536},{"a":10,"x":0.25,"y":-0.433},{"a":11,"x":0.1294,"y":-0.483},{"a":12,"x":0,"y":-0.5},{"a":13,"x":-0.1294,"y":-0.483},{"a":14,"x":-0.25,"y":-0.433},{"a":15,"x":-0.3536,"y":-0.3536},{"a":16,"x":-0.433,"y":-0.25},{"a":17,"x":-0.483,"y":-0.1294},{"a":18,"x":-0.5,"y":0},{"a":19,"x":-0.483,"y":0.1294},{"a":20,"x":-0.433,"y":0.25},{"a":21,"x":-0.3536,"y":0.3536},{"a":22,"x":-0.25,"y":0.433},{"a":23,"x":-0.1294,"y":0.483}]},"mark":{"type":"line","interpolate":"cardinal-closed","color":"#4d4d4d","strokeWidth":1.2},"encoding":{"order":{"field":"a","type":"quantitative"},"x":{"field":"x","type":"quantitative"},"y":{"field":"y","type":"quantitative"}}},{"data":{"values":[{"v":0}]},"mark":{"type":"rule","strokeDash":[3,3],"color":"#333333","strokeWidth":1.2},"encoding":{"x":{"field":"v","type":"quantitative"}}},{"data":{"values":[{"v":0}]},"mark":{"type":"rule","strokeDash":[3,3],"color":"#333333","strokeWidth":1.2},"encoding":{"y":{"field":"v","type":"quantitative"}}},{"data":{"values":[{"x":-0.86,"y":0.43,"t":"mir7_Hour24"},{"x":-0.775,"y":0.41,"t":"mir18a_Hour24"},{"x":-0.772,"y":0.368,"t":"mir135b_Hour24"},{"x":-0.75,"y":0.283,"t":"mir7_Hour48"},{"x":-0.713,"y":0.147,"t":"mir17_Hour24"},{"x":-0.317,"y":0.57,"t":"mir145_Hour8"},{"x":-0.325,"y":0.662,"t":"mir183_Hour4"},{"x":-0.207,"y":0.634,"t":"mir145_Hour6"},{"x":-0.32,"y":0.778,"t":"mir200b_Hour4"},{"x":-0.32,"y":0.773,"t":"mir429_Hour4"},{"x":-0.3,"y":0.765,"t":"mir200c_Hour4"},{"x":-0.41,"y":0.75,"t":"mir141_Hour6"},{"x":-0.33,"y":0.748,"t":"mir200a_Hour6"},{"x":-0.31,"y":0.752,"t":"mir429_Hour6"},{"x":0.728,"y":-0.286,"t":"mir200a_Hour4"},{"x":0.733,"y":-0.355,"t":"mir373_Hour2"},{"x":0.846,"y":-0.458,"t":"mir200a_Hour8"},{"x":0.85,"y":-0.46,"t":"mir200b_Hour8"},{"x":0.858,"y":-0.458,"t":"mir429_Hour8"},{"x":0.862,"y":-0.46,"t":"mir200c_Hour8"},{"x":0.048,"y":-0.697,"t":"mir23b_Hour48"}]},"mark":{"type":"text","fontSize":12.5,"color":"#5aa2dc","opacity":0.9},"encoding":{"x":{"field":"x","type":"quantitative"},"y":{"field":"y","type":"quantitative"},"text":{"field":"t"}}},{"data":{"values":[{"x":-1.439,"y":1.218,"t":"(b)"}]},"mark":{"type":"text","fontSize":26,"color":"#1a1a1a","clip":false,"align":"center"},"encoding":{"x":{"field":"x","type":"quantitative"},"y":{"field":"y","type":"quantitative"},"text":{"field":"t"}}}]}]}
